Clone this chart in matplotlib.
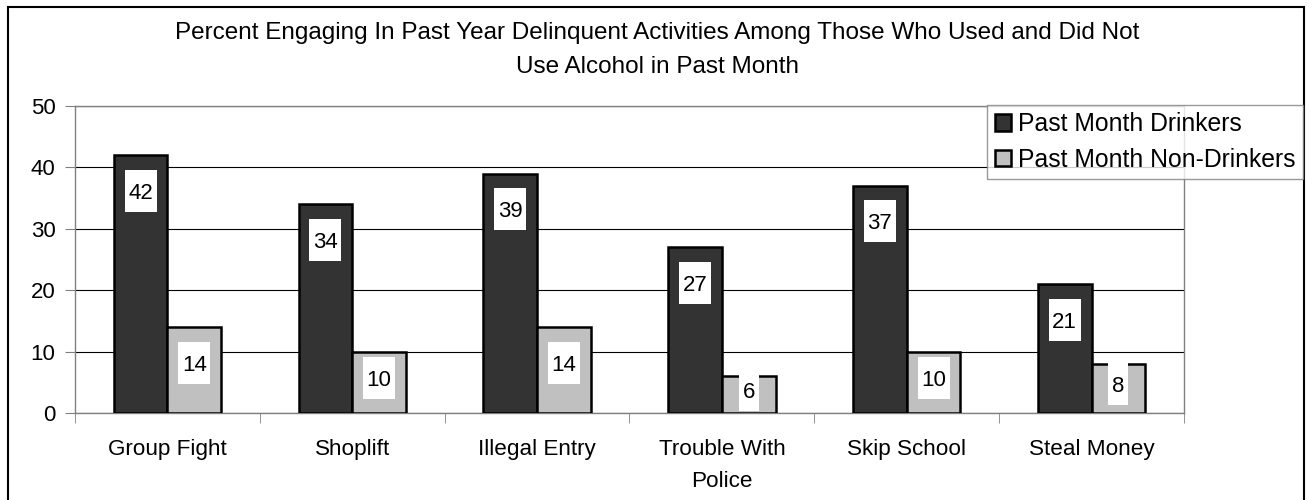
import numpy as np
import matplotlib
matplotlib.use('Agg')
import matplotlib.pyplot as plt
from matplotlib.patches import Rectangle
from matplotlib.transforms import Affine2D, ScaledTranslation

plt.rcParams['font.family'] = ['Liberation Sans', 'DejaVu Sans']

# Data
categories = ['Group Fight', 'Shoplift', 'Illegal Entry', 'Trouble With\nPolice', 'Skip School', 'Steal Money']
drinkers = [42, 34, 39, 27, 37, 21]
non_drinkers = [14, 10, 14, 6, 10, 8]
series_names = ['Past Month Drinkers', 'Past Month Non-Drinkers']
title = ('Percent Engaging In Past Year Delinquent Activities Among Those Who Used and Did Not\n'
         'Use Alcohol in Past Month')

W, H = 1314, 500
fig = plt.figure(figsize=(W / 100, H / 100), dpi=100)
ax = fig.add_axes([75 / W, 1 - 413 / H, (1184 - 75) / W, (413 - 106) / H])

x = np.arange(len(categories))
w = 0.29
b1 = ax.bar(x - w / 2, drinkers, w, color='#333333', edgecolor='black', linewidth=1.8, zorder=3,
            label=series_names[0])
b2 = ax.bar(x + w / 2, non_drinkers, w, color='#c0c0c0', edgecolor='black', linewidth=1.8, zorder=3,
            label=series_names[1])

# value labels in tall white boxes (box sizes in pixels)
for xs, vals in ((x - w / 2, drinkers), (x + w / 2, non_drinkers)):
    for xi, v in zip(xs, vals):
        yc = max(v - 5.8, v / 2 + 0.7)
        bw = 12 * len(str(v)) + 8
        bh = 42
        tr = Affine2D().translate(-bw / 2, -bh / 2) + ScaledTranslation(xi, yc, ax.transData)
        ax.add_patch(Rectangle((0, 0), bw, bh, transform=tr, facecolor='white', edgecolor='none',
                               zorder=4, clip_on=False))
        ax.text(xi, yc, str(v), ha='center', va='center_baseline', fontsize=16, zorder=5)

ax.set_xlim(-0.5, len(categories) - 0.5)
ax.set_ylim(0, 50)
ax.set_yticks(np.arange(0, 51, 10))
ax.yaxis.grid(True, color='black', linewidth=0.8)
ax.set_axisbelow(True)
for s in ax.spines.values():
    s.set_color('#808080')
    s.set_linewidth(1.0)
ax.tick_params(axis='y', direction='out', length=7, color='#808080', labelsize=16, pad=7)

ax.set_xticks(x)
ax.set_xticklabels(categories, fontsize=16.2, linespacing=1.65)
ax.tick_params(axis='x', which='major', length=0, pad=19)
ax.set_xticks(np.arange(-0.5, len(categories), 1.0), minor=True)
ax.tick_params(axis='x', which='minor', direction='out', length=7, color='#808080')

fig.text(0.5, 1 - 50 / H, title, ha='center', va='center', fontsize=17.5, linespacing=1.65)

leg = fig.legend(handles=[b1, b2], loc='upper right', bbox_to_anchor=(1303 / W, 1 - 105 / H),
                 bbox_transform=fig.transFigure, fontsize=17.8, frameon=True, fancybox=False,
                 borderaxespad=0, borderpad=0.3, handlelength=0.65, handleheight=0.65,
                 handletextpad=0.3, labelspacing=0.45)
leg.get_frame().set_edgecolor('#808080')
leg.get_frame().set_linewidth(1.0)

# outer chart border
fig.patches.append(Rectangle((8 / W, -0.05), (1304 - 8) / W, 1.05 - 7 / H, transform=fig.transFigure,
                             fill=False, edgecolor='black', linewidth=1.5))

fig.savefig('out.png', dpi=100)
